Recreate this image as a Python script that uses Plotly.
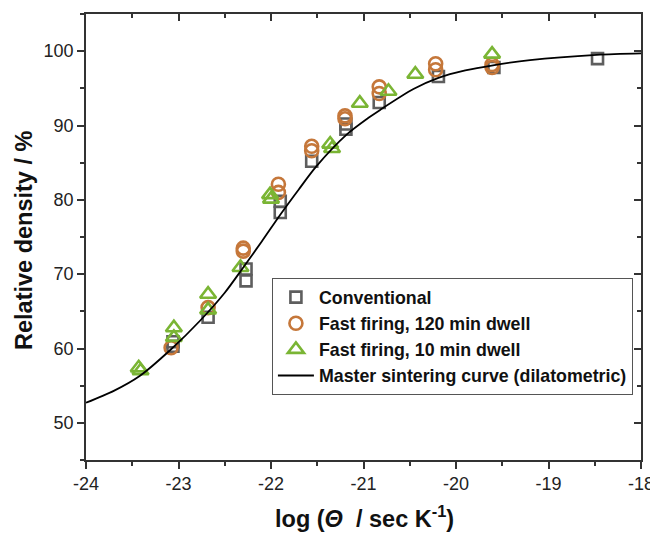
import plotly.graph_objects as go

# Conventional (squares)
conv_x = [-23.06, -23.06, -22.68, -22.27, -22.27, -21.90, -21.90, -21.56, -21.19, -21.19, -20.83, -20.19, -19.59, -18.47]
conv_y = [60.9, 60.3, 64.2, 70.7, 69.1, 79.8, 78.3, 85.2, 90.2, 89.5, 93.1, 96.6, 97.8, 99.0]

# Fast firing, 120 min dwell (circles)
ff120_x = [-23.08, -22.68, -22.30, -22.30, -21.92, -21.92, -21.56, -21.56, -21.20, -21.20, -20.83, -20.83, -20.22, -20.22, -19.61, -19.61]
ff120_y = [60.1, 65.5, 73.5, 73.1, 82.1, 81.0, 87.2, 86.6, 91.3, 90.9, 95.2, 94.3, 98.3, 97.5, 98.2, 97.8]

# Fast firing, 10 min dwell (triangles)
ff10_x = [-23.43, -23.41, -23.05, -23.05, -22.68, -22.68, -22.33, -22.01, -22.00, -21.36, -21.34, -21.04, -20.73, -20.44, -19.61]
ff10_y = [57.4, 57.0, 62.8, 61.5, 67.3, 65.2, 70.9, 80.7, 80.1, 87.5, 86.9, 93.0, 94.6, 96.9, 99.6]

# Master sintering curve
msc_x = [-24.0, -23.7, -23.42, -23.08, -22.77, -22.5, -22.30, -22.10, -21.90, -21.70, -21.51, -21.18, -20.95, -20.82, -20.46, -20.19, -19.90, -19.60, -19.20, -18.48, -18.0]
msc_y = [52.7, 54.3, 56.3, 59.9, 63.7, 67.5, 70.9, 74.4, 78.0, 81.4, 84.5, 88.8, 91.0, 92.1, 94.9, 96.4, 97.4, 98.1, 98.8, 99.5, 99.7]

X_TICKS = [-24, -23, -22, -21, -20, -19, -18]
X_TICKTEXT = ["-24", "-23", "-22", "-21", "-20", "-19", "-18"]
Y_TICKS = [50, 60, 70, 80, 90, 100]
X_RANGE = [-24, -18]
Y_RANGE = [45, 105]

FONT = "Liberation Sans, Arial, sans-serif"

# page body adds an 8px offset; figure size/margins compensate for it
W, H = 650, 526
ML, MR, MT, MB = 78, 17, 6, 74
PW, PH = W - ML - MR, H - MT - MB

fig = go.Figure()
fig.add_trace(go.Scatter(x=conv_x, y=conv_y, mode="markers", name="Conventional",
                         marker=dict(symbol="square-open", size=11, color="#5e5e5e", line=dict(width=2.6))))
fig.add_trace(go.Scatter(x=ff120_x, y=ff120_y, mode="markers", name="Fast firing, 120 min dwell",
                         marker=dict(symbol="circle-open", size=13, color="#c5773a", line=dict(width=2.6))))
fig.add_trace(go.Scatter(x=ff10_x, y=ff10_y, mode="markers", name="Fast firing, 10 min dwell",
                         marker=dict(symbol="triangle-up-open", size=14, color="#7ab534", line=dict(width=2.6))))
fig.add_trace(go.Scatter(x=msc_x, y=msc_y, mode="lines", name="Master sintering curve (dilatometric)",
                         line=dict(color="black", width=1.8, shape="spline", smoothing=0.8)))
# invisible helper trace for the mirrored (top/right) axes
fig.add_trace(go.Scatter(x=X_RANGE, y=Y_RANGE, xaxis="x2", yaxis="y2", mode="markers",
                         marker=dict(opacity=0), showlegend=False, hoverinfo="skip"))

axis_common = dict(showgrid=False, zeroline=False, showline=True, linecolor="#333333", linewidth=1.5,
                   automargin=False)
tickfont = dict(family=FONT, size=18, color="#222222")
titlefont = dict(family=FONT, size=23.5, color="#111111")

fig.update_layout(
    width=W, height=H,
    margin=dict(l=ML, r=MR, t=MT, b=MB),
    paper_bgcolor="white", plot_bgcolor="white",
    xaxis=dict(range=X_RANGE, tickvals=X_TICKS, ticktext=X_TICKTEXT, ticks="outside", ticklen=7, tickwidth=1.5,
               tickcolor="#333333", tickfont=tickfont,
               minor=dict(dtick=0.5, ticks="outside", ticklen=4, tickwidth=1.5, tickcolor="#333333"),
               **axis_common),
    yaxis=dict(range=Y_RANGE, tickvals=Y_TICKS, ticks="outside", ticklen=7, tickwidth=1.5,
               tickcolor="#333333", tickfont=tickfont,
               minor=dict(dtick=5, ticks="outside", ticklen=4, tickwidth=1.5, tickcolor="#333333"),
               **axis_common),
    xaxis2=dict(range=X_RANGE, overlaying="x", side="top", tickvals=X_TICKS, ticks="inside", ticklen=7,
                tickwidth=1.5, tickcolor="#333333", showticklabels=False,
                minor=dict(dtick=0.5, ticks="inside", ticklen=4, tickwidth=1.5, tickcolor="#333333"),
                **axis_common),
    yaxis2=dict(range=Y_RANGE, overlaying="y", side="right", tickvals=Y_TICKS, ticks="inside",
                ticklen=7, tickwidth=1.5, tickcolor="#333333", showticklabels=False,
                minor=dict(dtick=5, ticks="inside", ticklen=4, tickwidth=1.5, tickcolor="#333333"),
                **axis_common),
    legend=dict(x=0.335, y=0.408, xanchor="left", yanchor="top",
                bgcolor="white", bordercolor="#555555", borderwidth=1,
                font=dict(family=FONT, size=17.8, color="#111111", weight="bold"),
                tracegroupgap=0, itemwidth=36),
    showlegend=True,
)

# axis titles placed as annotations
fig.add_annotation(text="<b>Relative density / %</b>", textangle=-90, showarrow=False,
                   xref="paper", yref="paper", x=(24 - 86) / PW, y=(460 - 240) / PH,
                   xanchor="center", yanchor="middle", font=titlefont)
fig.add_annotation(text="<b>log (<i>Θ</i>&nbsp;&nbsp;/ sec K<sup>-1</sup>)</b>", showarrow=False,
                   xref="paper", yref="paper", x=(364 - 86) / PW, y=(460 - 517) / PH,
                   xanchor="center", yanchor="middle", font=titlefont)

fig.write_html("out.html")
